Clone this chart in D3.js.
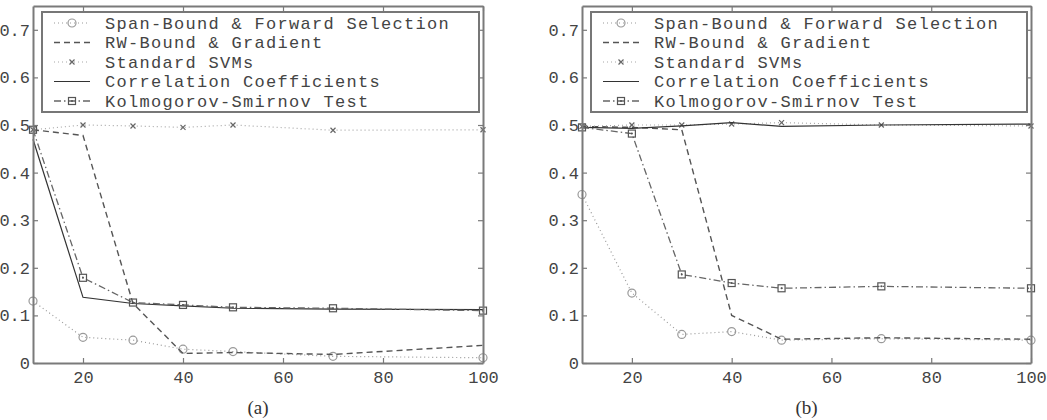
<!DOCTYPE html>
<html>
<head>
<meta charset="utf-8">
<script src="https://cdn.jsdelivr.net/npm/d3@7"></script>
<style>
  html, body { margin: 0; padding: 0; background: #fff; }
  svg { display: block; }
</style>
</head>
<body>
<svg id="chart" width="1047" height="420"></svg>
<script>
// ---------------- data ----------------
const xValues = [10, 20, 30, 40, 50, 70, 100];
const seriesNames = [
  "Span-Bound & Forward Selection",
  "RW-Bound & Gradient",
  "Standard SVMs",
  "Correlation Coefficients",
  "Kolmogorov-Smirnov Test"
];
// panel (a)
const spanA = [0.130, 0.054, 0.048, 0.029, 0.024, 0.014, 0.011];
const rwA   = [0.490, 0.478, 0.125, 0.020, 0.022, 0.018, 0.037];
const svmA  = [0.490, 0.500, 0.498, 0.495, 0.500, 0.489, 0.490];
const corrA = [0.470, 0.138, 0.125, 0.120, 0.115, 0.113, 0.112];
const ksA   = [0.490, 0.179, 0.127, 0.122, 0.117, 0.115, 0.110];
// panel (b)
const spanB = [0.354, 0.147, 0.060, 0.066, 0.048, 0.051, 0.048];
const rwB   = [0.497, 0.495, 0.490, 0.100, 0.050, 0.053, 0.050];
const svmB  = [0.497, 0.500, 0.500, 0.502, 0.505, 0.500, 0.498];
const corrB = [0.495, 0.493, 0.498, 0.505, 0.497, 0.500, 0.502];
const ksB   = [0.495, 0.482, 0.186, 0.168, 0.157, 0.161, 0.157];
const xTicks = [20, 40, 60, 80, 100];
const yTicks = [0, 0.1, 0.2, 0.3, 0.4, 0.5, 0.6, 0.7];
const captions = ["(a)", "(b)"];

// ---------------- styles ----------------
const styles = [
  { dash: "1,3", color: "#9a9a9a", width: 1.2, marker: "circle" },
  { dash: "6,4", color: "#555", width: 1.4, marker: null },
  { dash: "1,3", color: "#a8a8a8", width: 1.2, marker: "x" },
  { dash: null,  color: "#333", width: 1.2, marker: null },
  { dash: "7,3,1.5,3", color: "#666", width: 1.3, marker: "square" }
];

const svg = d3.select("#chart");
const panels = [
  { left: 33, right: 483, data: [spanA, rwA, svmA, corrA, ksA], caption: captions[0] },
  { left: 582, right: 1031, data: [spanB, rwB, svmB, corrB, ksB], caption: captions[1] }
];
const plotTop = 6, plotBottom = 363;
const axisColor = "#7a7a7a";
const textColor = "#444";
const monoFont = "'Liberation Mono', 'DejaVu Sans Mono', monospace";

function drawMarker(g, type, x, y, color) {
  if (type === "circle") {
    g.append("circle").attr("cx", x).attr("cy", y).attr("r", 4)
      .attr("fill", "none").attr("stroke", color).attr("stroke-width", 1.2);
  } else if (type === "square") {
    g.append("rect").attr("x", x - 3.5).attr("y", y - 3.5).attr("width", 7).attr("height", 7)
      .attr("fill", "none").attr("stroke", "#555").attr("stroke-width", 1.2);
    g.append("circle").attr("cx", x).attr("cy", y).attr("r", 1).attr("fill", "#555");
  } else if (type === "x") {
    const s = 2.5;
    g.append("path").attr("d", `M${x - s},${y - s}L${x + s},${y + s}M${x - s},${y + s}L${x + s},${y - s}`)
      .attr("stroke", "#666").attr("stroke-width", 1.2);
  }
}

panels.forEach(p => {
  const x = d3.scaleLinear().domain([10, 100]).range([p.left, p.right]);
  const y = d3.scaleLinear().domain([0, 0.75]).range([plotBottom, plotTop]);
  const g = svg.append("g");

  // data lines
  p.data.forEach((vals, i) => {
    const st = styles[i];
    const line = d3.line().x((d, j) => x(xValues[j])).y(d => y(d));
    g.append("path").datum(vals).attr("d", line)
      .attr("fill", "none").attr("stroke", st.color).attr("stroke-width", st.width)
      .attr("stroke-dasharray", st.dash);
    if (st.marker) {
      vals.forEach((v, j) => drawMarker(g, st.marker, x(xValues[j]), y(v), st.color));
    }
  });

  // axes
  const axB = g.append("g").attr("transform", `translate(0,${plotBottom})`)
    .call(d3.axisBottom(x).tickValues(xTicks).tickSizeInner(-5).tickSizeOuter(0).tickPadding(8));
  const axL = g.append("g").attr("transform", `translate(${p.left},0)`)
    .call(d3.axisLeft(y).tickValues(yTicks).tickFormat(d => d === 0 ? "0" : d3.format(".1f")(d))
      .tickSizeInner(-5).tickSizeOuter(0).tickPadding(3));
  const axT = g.append("g").attr("transform", `translate(0,${plotTop})`)
    .call(d3.axisTop(x).tickValues(xTicks).tickSizeInner(-5).tickSizeOuter(0).tickFormat(""));
  const axR = g.append("g").attr("transform", `translate(${p.right},0)`)
    .call(d3.axisRight(y).tickValues(yTicks).tickSizeInner(-5).tickSizeOuter(0).tickFormat(""));
  [axB, axL, axT, axR].forEach(a => {
    a.select(".domain").attr("stroke", axisColor).attr("stroke-width", 2);
    a.selectAll(".tick line").attr("stroke", axisColor).attr("stroke-width", 1.2);
    a.selectAll("text").attr("fill", textColor).attr("font-family", monoFont).attr("font-size", 17);
  });
  axB.selectAll("text").attr("dy", "0.71em");

  // legend
  const lx = p.left + 9, ly = 12, lw = p.right - 4 - lx, lh = 100;
  g.append("rect").attr("x", lx).attr("y", ly).attr("width", lw).attr("height", lh)
    .attr("fill", "#fff").attr("stroke", "#777").attr("stroke-width", 2);
  seriesNames.forEach((name, i) => {
    const st = styles[i];
    const ry = 23 + i * 19.5;
    g.append("line").attr("x1", lx + 12).attr("x2", lx + 48).attr("y1", ry).attr("y2", ry)
      .attr("stroke", st.color).attr("stroke-width", st.width).attr("stroke-dasharray", st.dash);
    if (st.marker) drawMarker(g, st.marker, lx + 30, ry, st.color);
    g.append("text").attr("x", lx + 63).attr("y", ry).attr("dy", "0.35em")
      .attr("font-family", monoFont).attr("font-size", 17).attr("letter-spacing", 1.3)
      .attr("fill", textColor)
      .text(name);
  });

  // caption
  g.append("text").attr("x", (p.left + p.right) / 2).attr("y", 407).attr("dy", "0.35em")
    .attr("text-anchor", "middle")
    .attr("font-family", "'Liberation Serif', 'Times New Roman', serif").attr("font-size", 19)
    .attr("fill", "#333").text(p.caption);
});
</script>
</body>
</html>
